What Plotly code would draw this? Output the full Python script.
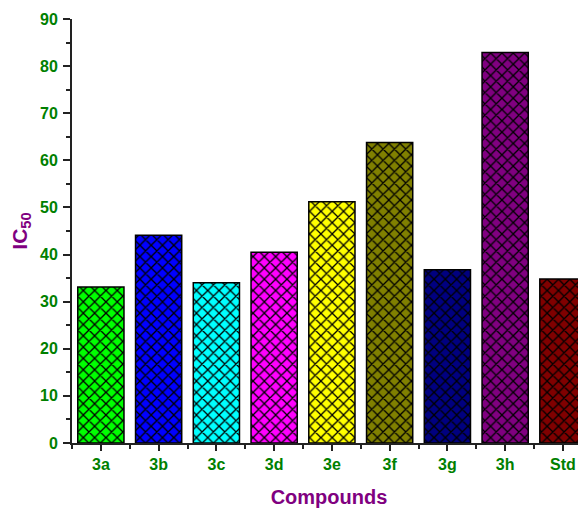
import plotly.graph_objects as go

categories = ["3a", "3b", "3c", "3d", "3e", "3f", "3g", "3h", "Std"]
ic50_values = [33.1, 44.1, 34.0, 40.5, 51.2, 63.8, 36.8, 82.9, 34.8]
bar_colors = ["#00FF00", "#0000FF", "#00FFFF", "#FF00FF", "#FFFF00",
              "#808000", "#000080", "#800080", "#800000"]
y_ticks = [0, 10, 20, 30, 40, 50, 60, 70, 80, 90]

positions = list(range(len(categories)))
font_family = "Liberation Sans, Arial, sans-serif"
green = "#008000"
purple = "#800080"

fig = go.Figure(go.Bar(
    x=positions,
    y=ic50_values,
    width=0.8,
    marker=dict(
        line=dict(color="black", width=1.5),
        pattern=dict(shape="x", fgcolor="#000000",
                     bgcolor=bar_colors, size=8, solidity=0.3,
                     fillmode="replace", fgopacity=1),
    ),
))

# page body has an 8px margin, so the figure is offset by 8px
fig.update_layout(
    width=578, height=500,
    margin=dict(l=64, r=0, t=11, b=65),
    paper_bgcolor="white", plot_bgcolor="white",
    showlegend=False,
    font=dict(family=font_family),
)

fig.update_xaxes(
    range=[-0.5, 8.4],
    automargin=False,
    tickmode="array", tickvals=positions,
    ticktext=[f"<b>{c}</b>" for c in categories],
    tickfont=dict(size=16, color=green, family=font_family),
    ticks="outside", ticklen=6, tickwidth=2, tickcolor="#222",
    showline=True, linecolor="#222", linewidth=2,
    showgrid=False, zeroline=False,
    minor=dict(tickmode="array", tickvals=[p + 0.5 for p in positions[:-1]] + [-0.5],
               ticks="outside", ticklen=4, tickwidth=2, tickcolor="#222"),
    title=dict(text="<b>Compounds</b>", font=dict(size=20, color=purple, family=font_family),
               standoff=19),
)

fig.update_yaxes(
    range=[0, 90],
    automargin=False,
    tickmode="array", tickvals=y_ticks,
    ticktext=[f"<b>{v}</b>" for v in y_ticks],
    tickfont=dict(size=16, color=green, family=font_family),
    ticks="outside", ticklen=7, tickwidth=2, tickcolor="#222",
    ticklabelstandoff=2,
    showline=True, linecolor="#222", linewidth=2,
    showgrid=False, zeroline=False,
    minor=dict(dtick=5, ticks="outside", ticklen=4, tickwidth=2, tickcolor="#222"),
    title=dict(text="<b>IC<sub>50</sub></b>", font=dict(size=21, color=purple, family=font_family),
               standoff=10),
)

fig.write_html("out.html")
